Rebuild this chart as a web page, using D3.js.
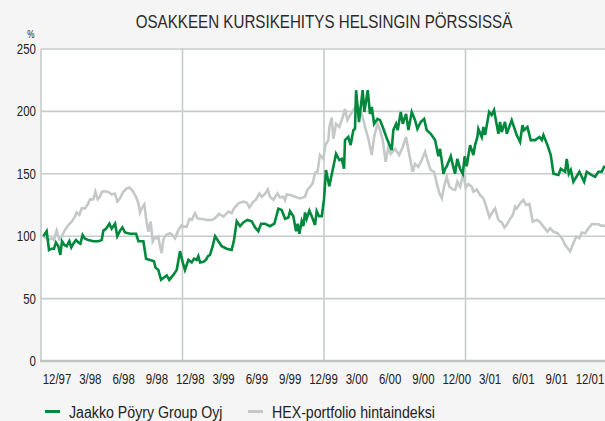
<!DOCTYPE html>
<html>
<head>
<meta charset="utf-8">
<style>
  body { margin: 0; background: #f5f5f5; }
  svg { display: block; }
  text { font-family: "Liberation Sans", Arial, sans-serif; fill: #222; }
</style>
</head>
<body>
<svg width="605" height="421"></svg>
<script src="https://cdn.jsdelivr.net/npm/d3@7/dist/d3.min.js"></script>
<script>

// months since start of 12/97, index value (%)
var jaakkoPoyry = [
  [0.2,100],[0.48,104],[0.68,89],[0.9,90],[1.1,90],[1.27,95],[1.47,92],[1.64,85],[1.78,96],[1.98,93],
  [2.18,92],[2.4,96],[2.57,91],[2.74,94],[2.97,97],[3.17,95],[3.34,94],[3.53,101],[3.73,98],[4.01,97],
  [4.44,96],[4.86,96],[5.15,97],[5.29,104.5],[5.51,106],[5.8,110],[5.99,106],[6.28,110],[6.47,100],[6.7,104.5],
  [6.9,107],[7.12,103],[7.55,102],[8.06,102],[8.26,96],[8.68,96],[8.91,82],[9.25,81],[9.58,80],[9.7,75],
  [9.95,73],[10.18,65],[10.38,66.5],[10.66,68.6],[10.88,65],[11.22,69],[11.51,73],[11.79,88],[12.02,79],[12.21,73],
  [12.5,81],[12.78,79],[12.98,82],[13.2,81],[13.34,84],[13.49,79],[13.77,79.5],[13.99,81],[14.16,84],[14.33,85],
  [14.56,92],[14.76,100],[15.04,96],[15.32,92],[15.75,90],[16.17,89],[16.37,97],[16.6,112],[16.88,108],[17.16,111],
  [17.5,113],[17.87,112],[18.15,107],[18.43,104],[18.66,110],[19.0,110],[19.42,108],[19.79,110],[20.13,122],[20.41,121],
  [20.7,114],[20.98,115],[21.12,120],[21.4,116],[21.63,104],[21.77,110],[21.91,102],[22.11,112],[22.25,108],[22.39,119],
  [22.53,114],[22.76,120.5],[22.96,116],[23.24,109],[23.38,120],[23.58,116],[23.81,116],[24.0,129.5],[24.17,153],[24.45,140],
  [25.02,166],[25.3,161],[25.5,162],[25.7,154],[25.78,177],[26.06,179.5],[26.26,173],[26.49,185],[26.63,186],[26.72,217],
  [26.97,191.5],[27.28,217],[27.42,199.5],[27.71,217],[27.9,198],[28.05,203.5],[28.25,190],[28.53,194],[28.75,193],[28.98,187.5],
  [29.38,177],[29.74,169],[29.88,185],[30.11,190],[30.25,185],[30.51,199.5],[30.68,190],[30.96,198],[31.16,185],[31.44,199.5],
  [31.72,193],[31.92,186],[32.2,191.5],[32.49,194],[32.71,185],[33.05,182],[33.42,177],[33.7,164],[33.84,170],[33.98,161],
  [34.13,150],[34.27,154],[34.41,156],[34.75,164],[35.11,150],[35.31,162],[35.54,154],[35.77,150],[35.93,164],[36.1,156],
  [36.39,173],[36.67,165],[36.81,173],[37.01,179.5],[37.09,186],[37.38,179.5],[37.52,187.5],[37.66,181],[38.0,199.5],[38.22,197],
  [38.42,201],[38.79,182],[38.93,191.5],[39.07,183.5],[39.35,191.5],[39.5,182],[39.92,193],[40.34,181],[40.63,175.5],[40.83,189],
  [40.97,185],[41.25,187.5],[41.53,177],[41.9,177],[42.27,179.5],[42.47,177],[42.61,181],[42.95,173],[43.23,165],[43.46,150],
  [43.88,149],[44.08,154],[44.45,151.6],[44.59,162],[44.76,150],[44.93,153],[45.15,143.6],[45.66,151.6],[46.06,143.6],[46.28,151.6],
  [46.71,149],[46.99,147.6],[47.27,151.6],[47.56,151.6],[47.75,155.6],[48.2,156]
];

var hexPortfolio = [
  [0.2,100],[0.62,97],[0.9,98.4],[1.1,97],[1.33,104.5],[1.55,97.6],[1.75,99.7],[2.04,105],[2.32,109],[2.6,111.7],
  [2.88,115.7],[3.03,119],[3.25,117],[3.45,122.3],[3.73,122.3],[3.93,125],[4.16,129.5],[4.44,129.5],[4.61,135.6],[4.81,129.5],
  [5.0,131.6],[5.17,135.6],[5.51,136],[5.8,135],[5.99,133.5],[6.28,134],[6.47,127.7],[6.7,130.3],[6.98,135.6],[7.27,138.3],
  [7.49,139],[7.77,136.4],[8.06,131.6],[8.26,126.3],[8.4,119],[8.54,122.3],[8.76,125.5],[8.96,111],[9.1,103.7],[9.3,111.7],
  [9.47,95.7],[9.67,99],[9.81,98.4],[9.95,99.7],[10.09,92],[10.23,86.4],[10.38,97.6],[10.6,101],[10.94,102.4],[11.08,101.6],
  [11.37,98.4],[11.65,105],[11.93,108.8],[12.07,107.7],[12.36,107.7],[12.58,113.8],[12.78,113],[13.06,118.4],[13.26,114.4],[13.63,113.8],
  [14.05,113],[14.48,113],[14.76,114.4],[15.1,117.8],[15.47,115.7],[15.89,119.7],[16.17,118.4],[16.37,122.3],[16.74,126.3],[17.16,127.7],
  [17.44,127],[17.67,123],[17.95,127],[18.24,129.5],[18.52,134.3],[18.72,131.6],[19.0,133.8],[19.23,137.5],[19.42,131.6],[19.71,129],
  [20.05,134.3],[20.27,131],[20.55,131.6],[20.7,129],[20.84,133.5],[21.18,133],[21.54,131.6],[21.97,130.3],[22.39,131.6],[22.59,137],
  [22.82,139.6],[23.04,142.3],[23.24,150.8],[23.44,151.3],[23.66,165],[23.95,162],[24.12,173],[24.37,177],[24.46,187.5],[24.65,195],
  [24.8,178],[25.02,190],[25.3,187.5],[25.59,195.5],[25.78,202],[25.98,193],[26.21,197],[26.49,201],[26.77,205],[27.06,201],
  [27.28,195.5],[27.48,187.5],[27.76,178],[28.05,165],[28.25,179.5],[28.53,190],[28.75,185],[28.98,177],[29.23,159.6],[29.46,171.5],
  [29.66,166],[30.03,170],[30.37,165],[30.68,171.5],[30.96,179.5],[31.16,169],[31.52,151.6],[31.72,158],[32.0,155.6],[32.29,161],
  [32.57,167.6],[32.77,161],[33.05,153],[33.34,151.6],[33.56,142.3],[33.79,134.3],[33.99,130.3],[34.18,139.6],[34.41,147.6],[34.64,139.6],
  [34.92,137.5],[35.12,137],[35.31,143.6],[35.54,139.6],[35.82,150],[36.02,139],[36.25,141.8],[36.53,139.6],[36.67,135.6],[36.95,137.5],
  [37.23,133],[37.52,130.3],[37.74,124.2],[38.03,115.2],[38.31,119.7],[38.51,122.3],[38.79,113],[39.07,111],[39.3,107],[39.5,109],
  [39.72,113],[39.92,115.7],[40.06,118.4],[40.2,123.7],[40.34,122.3],[40.63,126.3],[40.91,129],[41.14,125],[41.42,125.8],[41.7,111.7],
  [42.04,113],[42.27,111.7],[42.61,107.7],[42.95,103.7],[43.18,106.4],[43.46,103.7],[43.8,102.4],[44.17,98.4],[44.45,93],[44.87,87.8],
  [45.15,94.4],[45.38,99.7],[45.66,98.4],[45.86,103],[46.15,102.4],[46.43,106.4],[46.71,109.6],[46.99,109.8],[47.27,109.6],[47.56,108.2],
  [47.75,108.5],[48.2,108.5]
];

var quarterLabels = ["12/97","3/98","6/98","9/98","12/98","3/99","6/99","9/99","12/99",
                     "3/00","6/00","9/00","12/00","3/01","6/01","9/01","12/01"];
var yTicks = [0, 50, 100, 150, 200, 250];
var yearLines = [12, 24, 36];
var seriesNames = ["Jaakko Pöyry Group Oyj", "HEX-portfolio hintaindeksi"];
var seriesColors = ["#00883c", "#c5c8c8"];

var svg = d3.select("svg");
var plotLeft = 41, plotTop = 49, plotBottom = 361, plotRight = 605;
var narrow = 0.82;   // fake condensed face

var x = d3.scaleLinear().domain([0, 48]).range([plotLeft, plotLeft + 566]);
var y = d3.scaleLinear().domain([0, 250]).range([plotBottom, plotTop]);
var xl = d3.scalePoint().domain(quarterLabels).range([57, 590]);

function at(px, py) { return "translate(" + px + "," + py + ") scale(" + narrow + ",1)"; }

// title
svg.append("text")
  .attr("transform", at(324, 28))
  .attr("text-anchor", "middle")
  .style("font-size", "18.5px")
  .style("fill", "#2a2a2a")
  .text("OSAKKEEN KURSIKEHITYS HELSINGIN PÖRSSISSÄ");

svg.append("text")
  .attr("transform", at(31, 38))
  .attr("text-anchor", "middle")
  .style("font-size", "10px")
  .text("%");

// plot background
svg.append("rect")
  .attr("x", plotLeft).attr("y", plotTop)
  .attr("width", plotRight - plotLeft).attr("height", plotBottom - plotTop)
  .attr("fill", "#fff");

var grid = svg.append("g").attr("stroke", "#c8cccc").attr("stroke-width", 1.6);

grid.selectAll("line.h")
  .data(yTicks.filter(function(d){ return d > 0; }))
  .enter().append("line")
  .attr("x1", plotLeft).attr("x2", plotRight)
  .attr("y1", function(d){ return y(d); })
  .attr("y2", function(d){ return y(d); });

grid.selectAll("line.v")
  .data([0].concat(yearLines))
  .enter().append("line")
  .attr("x1", function(d){ return x(d); })
  .attr("x2", function(d){ return x(d); })
  .attr("y1", plotTop).attr("y2", plotBottom);

svg.append("line")
  .attr("x1", plotLeft - 1).attr("x2", plotRight)
  .attr("y1", plotBottom).attr("y2", plotBottom)
  .attr("stroke", "#bfc3c3").attr("stroke-width", 2.5);

// y labels
svg.selectAll("text.ylab")
  .data(yTicks)
  .enter().append("text")
  .attr("class", "ylab")
  .attr("transform", function(d){ return at(36, y(d) + 5); })
  .attr("text-anchor", "end")
  .style("font-size", "14px")
  .text(function(d){ return d; });

// x labels
svg.selectAll("text.xlab")
  .data(quarterLabels)
  .enter().append("text")
  .attr("class", "xlab")
  .attr("transform", function(d){ return at(xl(d), 384); })
  .attr("text-anchor", "middle")
  .style("font-size", "14px")
  .text(function(d){ return d; });

var line = d3.line()
  .x(function(d){ return x(d[0]); })
  .y(function(d){ return y(d[1]); });

svg.append("clipPath").attr("id", "plotclip")
  .append("rect").attr("x", plotLeft).attr("y", 0)
  .attr("width", plotRight - plotLeft).attr("height", plotBottom);

svg.append("path")
  .datum(hexPortfolio)
  .attr("clip-path", "url(#plotclip)")
  .attr("d", line)
  .attr("fill", "none")
  .attr("stroke", seriesColors[1])
  .attr("stroke-width", 2.6);

svg.append("path")
  .datum(jaakkoPoyry)
  .attr("clip-path", "url(#plotclip)")
  .attr("d", line)
  .attr("fill", "none")
  .attr("stroke", seriesColors[0])
  .attr("stroke-width", 2.6);

// legend
var legendX = [45, 248];
var leg = svg.selectAll("g.leg")
  .data(seriesNames)
  .enter().append("g")
  .attr("class", "leg")
  .attr("transform", function(d, i){ return "translate(" + legendX[i] + ",0)"; });

leg.append("line")
  .attr("x1", 0).attr("x2", 15)
  .attr("y1", 411.5).attr("y2", 411.5)
  .attr("stroke", function(d, i){ return seriesColors[i]; })
  .attr("stroke-width", 3);

leg.append("text")
  .attr("transform", at(24, 417.5))
  .style("font-size", "17.3px")
  .text(function(d){ return d; });

</script>
</body>
</html>
